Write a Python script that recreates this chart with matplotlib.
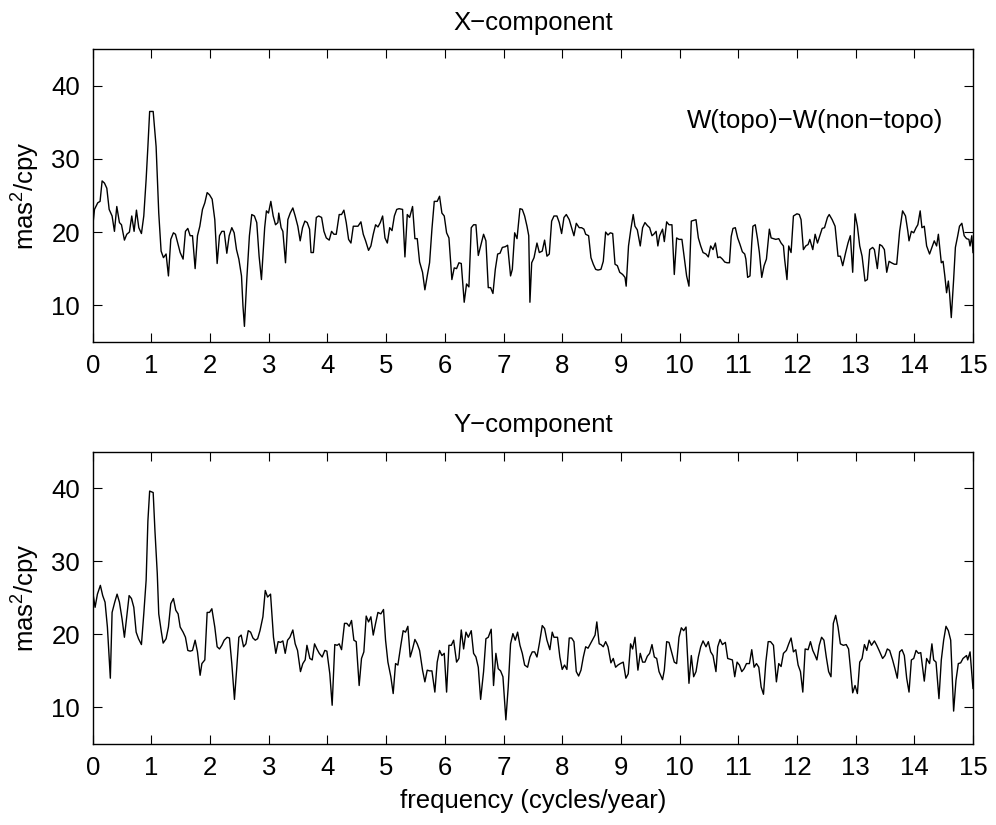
import matplotlib
matplotlib.use("Agg")
import matplotlib.pyplot as plt

plt.rcParams['font.family'] = ['Liberation Sans', 'DejaVu Sans']
plt.rcParams['mathtext.fontset'] = 'custom'
plt.rcParams['mathtext.rm'] = 'Liberation Sans'
plt.rcParams['mathtext.it'] = 'Liberation Sans:italic'

# ---------------- data ----------------
freq_x = [0.00, 0.03, 0.085, 0.125, 0.16, 0.20, 0.24, 0.28, 0.33, 0.37, 0.41, 0.455, 0.49, 0.54, 0.58,
          0.625, 0.665, 0.705, 0.745, 0.785, 0.83, 0.87, 0.91, 0.94, 0.97, 1.03, 1.08, 1.125, 1.165,
          1.205, 1.25, 1.29, 1.33, 1.375, 1.41, 1.455, 1.49, 1.54, 1.58, 1.62, 1.66, 1.70, 1.745,
          1.785, 1.825, 1.87, 1.91, 1.95, 1.99, 2.035, 2.08, 2.12, 2.16, 2.20, 2.24, 2.285, 2.325,
          2.37, 2.41, 2.45, 2.49, 2.535, 2.56, 2.585, 2.625, 2.67, 2.71, 2.755, 2.795, 2.835, 2.875,
          2.90, 2.93, 2.96, 2.995, 3.035, 3.075, 3.115, 3.155, 3.17, 3.21, 3.24, 3.285, 3.325, 3.365,
          3.41, 3.45, 3.495, 3.535, 3.575, 3.615, 3.655, 3.695, 3.72, 3.76, 3.81, 3.85,
          3.90, 3.94, 3.98, 4.03, 4.07, 4.11, 4.15, 4.20, 4.24, 4.28, 4.32, 4.36, 4.40, 4.44, 4.48,
          4.52, 4.57, 4.61, 4.65, 4.70, 4.74, 4.78, 4.82, 4.86, 4.90, 4.94, 4.98, 5.02, 5.06, 5.10,
          5.14, 5.18, 5.22, 5.28, 5.32, 5.36, 5.40, 5.45, 5.49, 5.53, 5.57, 5.62, 5.66, 5.70, 5.74,
          5.78, 5.82, 5.87, 5.91, 5.95, 5.99, 6.03, 6.07, 6.12, 6.16, 6.20, 6.24, 6.28, 6.33, 6.37,
          6.41, 6.45, 6.49, 6.53, 6.57, 6.61, 6.66, 6.70, 6.74, 6.78, 6.82, 6.86, 6.90, 6.94, 6.98,
          7.03, 7.07, 7.12, 7.15, 7.19, 7.23, 7.28, 7.32, 7.36, 7.40, 7.43, 7.45, 7.48, 7.52, 7.57,
          7.61, 7.66, 7.70, 7.74, 7.78, 7.82, 7.86, 7.91, 7.95, 7.99, 8.03, 8.07, 8.12, 8.16, 8.20,
          8.24, 8.29, 8.33, 8.37, 8.40, 8.45, 8.49, 8.53, 8.57, 8.61, 8.66, 8.70, 8.74, 8.78, 8.82,
          8.86, 8.90, 8.94, 8.98, 9.03, 9.07, 9.09, 9.13, 9.17, 9.21, 9.24, 9.28, 9.33, 9.37, 9.41,
          9.45, 9.49, 9.53, 9.56, 9.60, 9.63, 9.66, 9.71, 9.74, 9.78, 9.82, 9.87, 9.91, 9.95, 9.99,
          10.04, 10.08, 10.12, 10.16, 10.20, 10.24, 10.28, 10.32, 10.36, 10.40, 10.45, 10.49, 10.53,
          10.57, 10.61, 10.65, 10.69, 10.73, 10.77, 10.81, 10.85, 10.88, 10.91, 10.95, 10.99, 11.03,
          11.07, 11.11, 11.13, 11.16, 11.20, 11.23, 11.25, 11.29, 11.33, 11.36, 11.40, 11.44, 11.48,
          11.53, 11.56, 11.60, 11.64, 11.69, 11.73, 11.77, 11.79, 11.83, 11.86, 11.90, 11.94, 12.00,
          12.04, 12.07, 12.11, 12.15, 12.19, 12.22, 12.27, 12.31, 12.35, 12.39, 12.43, 12.47, 12.52,
          12.55, 12.60, 12.65, 12.70, 12.74, 12.78, 12.83, 12.87, 12.91, 12.95, 12.99, 13.03, 13.07,
          13.11, 13.16, 13.20, 13.24, 13.29, 13.32, 13.37, 13.41, 13.45, 13.49, 13.53, 13.57, 13.61,
          13.66, 13.70, 13.75, 13.80, 13.85, 13.89, 13.91, 13.95, 13.99, 14.03, 14.06, 14.10, 14.13,
          14.17, 14.21, 14.26, 14.30, 14.34, 14.38, 14.41, 14.46, 14.49, 14.52, 14.55, 14.58, 14.60,
          14.63, 14.67, 14.70, 14.74, 14.77, 14.81, 14.85, 14.89, 14.93, 14.95, 14.98, 15.00]

psd_x = [20.8, 23.1, 24.0, 24.2, 27.0, 26.7, 26.0, 23.1, 22.2, 20.1, 23.5, 21.3, 21.0, 18.9, 19.7,
         20.0, 22.2, 20.1, 23.0, 20.6, 19.8, 22.2, 27.2, 31.7, 36.5, 36.5, 31.7, 22.6, 17.4,
         16.5, 17.0, 14.0, 19.0, 19.9, 19.7, 18.3, 17.2, 16.3, 20.1, 20.5, 19.5, 19.5, 15.0,
         19.5, 20.8, 23.1, 24.0, 25.4, 25.1, 24.5, 21.7, 15.7, 19.5, 20.1, 20.1, 17.1, 19.5,
         20.6, 19.9, 17.6, 16.3, 14.0, 9.9, 7.1, 13.5, 19.5, 22.4, 22.2, 21.3, 16.7, 13.5,
         16.7, 20.6, 22.9, 22.6, 24.2, 22.2, 21.0, 21.3, 22.6, 20.6, 20.1, 15.8, 21.7, 22.6,
         23.3, 22.2, 20.8, 18.8, 20.6, 21.5, 21.3, 20.4, 17.2, 17.2, 22.0, 22.2,
         22.0, 20.1, 19.2, 18.9, 20.1, 19.7, 19.7, 22.4, 22.4, 23.0, 21.3, 19.0, 18.5, 20.8, 20.8,
         20.8, 21.4, 19.7, 18.8, 17.5, 18.1, 19.7, 21.0, 20.7, 21.3, 22.2, 19.2, 18.5, 20.6, 20.2,
         22.2, 23.1, 23.2, 23.1, 16.6, 22.4, 22.0, 23.5, 19.1, 19.1, 15.9, 14.5, 12.1, 14.0, 15.8,
         20.4, 24.2, 24.2, 24.9, 22.6, 22.2, 19.9, 19.2, 13.5, 15.1, 15.0, 15.8, 15.7, 10.4, 12.9,
         12.5, 20.6, 21.0, 21.0, 16.8, 18.1, 19.7, 18.8, 12.4, 12.4, 11.6, 14.9, 17.0, 17.1, 17.9,
         18.0, 18.2, 14.0, 14.9, 19.9, 19.1, 23.2, 23.1, 22.2, 20.8, 19.5, 10.4, 15.8, 16.5, 18.5,
         17.2, 17.4, 18.9, 16.7, 17.0, 21.5, 22.2, 22.2, 21.3, 19.8, 22.0, 22.4, 21.7, 20.6, 19.5,
         21.2, 20.6, 20.6, 20.4, 19.7, 19.5, 16.5, 15.6, 14.9, 14.8, 14.9, 16.0, 20.0, 19.6, 19.9,
         19.8, 15.6, 15.4, 14.5, 14.2, 13.8, 12.6, 18.1, 20.4, 22.4, 20.8, 20.3, 18.1, 20.6, 21.3,
         20.9, 20.6, 19.5, 19.7, 20.1, 18.1, 19.5, 20.4, 18.7, 21.4, 21.0, 21.0, 14.2, 19.2, 19.0,
         19.0, 16.5, 14.0, 12.6, 21.5, 21.6, 21.7, 19.2, 18.1, 17.2, 17.0, 16.6, 18.1,
         17.6, 18.5, 16.5, 16.6, 16.3, 15.9, 15.8, 15.8, 19.4, 20.5, 20.6, 19.2, 18.3,
         17.3, 17.0, 16.3, 13.8, 14.0, 18.5, 20.8, 21.0, 19.0, 17.2, 13.8, 15.4, 16.3,
         20.4, 19.2, 19.1, 19.0, 19.1, 18.5, 18.1, 16.3, 13.5, 18.1, 17.2, 22.2, 22.5,
         22.4, 21.7, 17.6, 18.1, 18.3, 19.0, 17.6, 19.7, 18.5, 19.5, 20.5, 20.6, 22.0,
         22.4, 21.7, 20.8, 16.7, 16.7, 15.4, 17.2, 18.5, 19.5, 14.5, 22.5, 20.8, 18.1,
         16.7, 13.3, 13.5, 17.6, 17.9, 17.6, 15.0, 18.3, 18.1, 17.6, 14.5, 16.0, 15.8,
         15.6, 15.6, 20.1, 22.9, 22.2, 20.1, 18.8, 20.1, 19.9, 20.6, 21.0, 22.9, 20.6,
         20.8, 18.1, 17.0, 17.9, 18.8, 18.1, 19.7, 15.8, 16.0, 14.0, 11.7, 13.3, 11.7,
         8.3, 13.5, 17.9, 19.5, 20.8, 21.2, 19.5, 19.1, 19.0, 18.1, 19.5, 17.2]

freq_y = [0.00, 0.04, 0.08, 0.13, 0.17, 0.21, 0.25, 0.30, 0.33, 0.375, 0.415, 0.455, 0.50, 0.54, 0.58,
          0.62, 0.66, 0.70, 0.74, 0.78, 0.83, 0.87, 0.91, 0.94, 0.97, 1.03, 1.06, 1.10, 1.125, 1.17,
          1.20, 1.25, 1.29, 1.33, 1.375, 1.415, 1.455, 1.49, 1.54, 1.58, 1.62, 1.66, 1.70, 1.745,
          1.785, 1.83, 1.86, 1.91, 1.95, 1.99, 2.03, 2.08, 2.12, 2.16, 2.20, 2.24, 2.29, 2.33, 2.37,
          2.415, 2.455, 2.49, 2.53, 2.57, 2.61, 2.65, 2.69, 2.73, 2.77, 2.81, 2.85, 2.90, 2.94, 2.98,
          3.03, 3.08, 3.12, 3.16, 3.20, 3.24, 3.28, 3.32, 3.36, 3.41, 3.45, 3.49, 3.54, 3.58, 3.62,
          3.65, 3.70, 3.74, 3.78, 3.82, 3.86,
          3.91, 3.955, 3.99, 4.04, 4.08, 4.125, 4.165, 4.20, 4.24, 4.29, 4.33, 4.37, 4.41, 4.45,
          4.49, 4.54, 4.58, 4.62, 4.66, 4.70, 4.74, 4.78, 4.82, 4.86, 4.91, 4.955, 4.99, 5.03, 5.08,
          5.12, 5.16, 5.20, 5.25, 5.29, 5.33, 5.37, 5.41, 5.45, 5.49, 5.53, 5.57, 5.62, 5.66, 5.70,
          5.74, 5.78, 5.83, 5.87, 5.91, 5.95, 5.99, 6.03, 6.07, 6.11, 6.15, 6.20, 6.24, 6.28, 6.32,
          6.36, 6.40, 6.45, 6.49, 6.53, 6.57, 6.61, 6.66, 6.70, 6.74, 6.79, 6.83, 6.87, 6.91, 6.95,
          6.99, 7.04, 7.08, 7.12, 7.16, 7.20, 7.24, 7.28, 7.32, 7.36, 7.41, 7.45, 7.49, 7.53, 7.57,
          7.61, 7.66, 7.70, 7.74, 7.79, 7.83, 7.86, 7.92, 7.96, 8.00, 8.04, 8.08, 8.12, 8.16, 8.20,
          8.24, 8.28, 8.32, 8.36, 8.40, 8.44, 8.48, 8.52, 8.56, 8.59, 8.63, 8.66, 8.70, 8.74, 8.78,
          8.83, 8.87, 8.91, 8.95, 8.99, 9.04, 9.085, 9.125, 9.165, 9.20, 9.24, 9.29, 9.33, 9.37,
          9.41, 9.45, 9.49, 9.53, 9.57, 9.61, 9.65, 9.71, 9.74, 9.78, 9.82, 9.87, 9.91, 9.95, 9.99,
          10.03, 10.07, 10.11, 10.16, 10.20, 10.24, 10.28, 10.32, 10.36, 10.40, 10.45, 10.49, 10.53,
          10.57, 10.62, 10.65, 10.69, 10.73, 10.78, 10.82, 10.86, 10.90, 10.94, 10.98, 11.02, 11.06,
          11.10, 11.14, 11.19, 11.23, 11.27, 11.31, 11.35, 11.39, 11.43, 11.47, 11.51, 11.55, 11.60,
          11.65, 11.69, 11.73, 11.77, 11.82, 11.86, 11.90, 11.94, 11.98, 12.02, 12.06, 12.10, 12.14,
          12.19, 12.23, 12.27, 12.31, 12.34, 12.38, 12.42, 12.46, 12.50, 12.54, 12.58, 12.62, 12.66,
          12.70, 12.74, 12.79, 12.84, 12.88, 12.91, 12.95, 12.99, 13.03, 13.07, 13.11, 13.15, 13.19,
          13.23, 13.27, 13.32, 13.36, 13.40, 13.46, 13.50, 13.54, 13.58, 13.63, 13.67, 13.71, 13.75,
          13.79, 13.83, 13.87, 13.91, 13.95, 13.99, 14.03, 14.07, 14.11, 14.17, 14.21, 14.26, 14.30,
          14.33, 14.37, 14.42, 14.46, 14.50, 14.54, 14.58, 14.62, 14.67, 14.71, 14.75, 14.79, 14.83,
          14.89, 14.91, 14.95, 15.00]

psd_y = [25.8, 23.7, 25.5, 26.7, 25.3, 24.4, 21.0, 14.0, 23.0, 24.4, 25.5, 24.4, 22.1, 19.6, 22.4,
         25.3, 24.9, 23.7, 20.3, 19.4, 18.6, 22.8, 27.4, 35.5, 39.6, 39.4, 34.2, 28.3, 22.8, 20.3,
         18.8, 19.4, 21.0, 24.2, 24.9, 23.3, 22.8, 21.0, 20.3, 19.6, 17.8, 17.7, 17.8, 19.2,
         17.6, 14.4, 16.0, 16.5, 23.0, 23.0, 23.5, 21.0, 18.3, 18.0, 18.5, 19.2, 19.6, 19.5, 16.0,
         11.1, 15.5, 19.6, 19.9, 18.3, 18.7, 20.5, 20.3, 19.5, 19.2, 19.4, 20.5, 22.4, 26.0, 25.1,
         25.5, 19.6, 17.4, 19.0, 18.9, 19.1, 17.4, 19.2, 19.6, 20.6, 18.7, 17.8, 14.9, 16.0, 16.5,
         18.5, 16.7, 16.5, 18.7, 18.0, 17.4,
         16.9, 17.8, 17.7, 14.6, 10.3, 18.6, 18.5, 18.7, 17.9, 21.5, 21.5, 21.1, 21.9, 19.2,
         19.0, 13.0, 16.7, 17.6, 22.5, 21.7, 22.4, 19.9, 21.5, 23.0, 22.8, 23.4, 19.2, 16.2, 14.2,
         11.9, 16.0, 15.8, 18.5, 20.5, 20.3, 21.1, 16.9, 18.0, 19.3, 18.7, 17.8, 15.1, 13.5, 15.1,
         15.0, 15.0, 12.1, 16.2, 17.8, 17.1, 17.4, 12.1, 18.5, 18.5, 19.2, 16.2, 16.7, 20.6, 18.0,
         20.3, 19.6, 20.5, 17.4, 16.9, 15.5, 11.1, 14.9, 19.4, 19.6, 20.7, 13.0, 17.4, 15.3, 15.0,
         14.2, 8.3, 12.8, 18.7, 20.1, 19.2, 20.3, 18.5, 17.4, 15.8, 15.5, 16.9, 17.6, 17.6, 16.9,
         18.7, 21.2, 20.8, 19.2, 17.9, 20.3, 19.6, 19.6, 16.9, 15.2, 15.8, 15.2, 19.5, 19.5, 19.0,
         14.9, 14.3, 15.1, 16.9, 18.3, 18.1, 18.7, 19.3, 19.9, 21.7, 18.7, 18.6, 18.3, 19.0, 18.3,
         16.1, 16.7, 15.5, 15.8, 16.0, 16.2, 14.0, 14.6, 18.7, 18.0, 19.6, 15.1, 17.4, 16.2,
         16.2, 17.0, 17.4, 18.6, 16.9, 16.7, 14.9, 13.8, 15.1, 19.0, 18.9, 17.4, 16.2, 16.0, 19.6,
         20.9, 20.5, 21.0, 13.3, 17.1, 14.2, 14.9, 16.9, 18.3, 19.1, 18.3, 19.0, 17.6,
         17.1, 14.9, 18.3, 19.3, 18.6, 18.9, 16.7, 16.6, 16.5, 14.2, 16.2, 15.8, 14.9,
         15.3, 16.0, 16.0, 17.9, 15.5, 16.0, 15.5, 12.8, 11.8, 16.2, 19.0, 19.0, 18.5,
         13.5, 16.0, 15.6, 17.4, 17.8, 18.7, 19.5, 17.6, 17.9, 15.8, 14.9, 12.1, 18.0,
         17.9, 19.0, 17.8, 17.1, 16.5, 18.5, 19.6, 19.2, 16.9, 14.9, 14.2, 21.5, 22.6,
         21.0, 18.7, 18.5, 18.6, 18.0, 15.5, 12.0, 13.0, 11.9, 16.2, 16.7, 18.6, 17.8,
         19.2, 18.5, 19.1, 18.5, 17.8, 16.7, 17.1, 18.0, 17.8, 16.5, 15.3, 14.0, 17.6,
         17.9, 17.1, 14.0, 12.1, 16.5, 16.7, 17.8, 17.4, 17.5, 13.6, 16.7, 16.0, 18.7,
         16.5, 16.2, 11.2, 16.5, 19.2, 21.1, 20.5, 19.2, 9.5, 13.7, 16.0, 16.1, 16.7,
         17.1, 16.5, 17.6, 12.6]

titles = ["X\u2212component", "Y\u2212component"]
ylabel = "mas$^{\\mathrm{2}}$/cpy"
xlabel = "frequency (cycles/year)"
annotation = "W(topo)\u2212W(non\u2212topo)"
xticks = list(range(0, 16))
yticks = [10, 20, 30, 40]

FS = 18.5

fig = plt.figure(figsize=(9.96, 8.25), dpi=100)
ax1 = fig.add_axes([0.0931, 0.5858, 0.8838, 0.3544])
ax2 = fig.add_axes([0.0931, 0.0982, 0.8838, 0.3544])

for ax, f, v, t in [(ax1, freq_x, psd_x, titles[0]), (ax2, freq_y, psd_y, titles[1])]:
    ax.plot(f, v, color='black', linewidth=1.0)
    ax.set_xlim(0, 15)
    ax.set_ylim(5, 45)
    ax.set_xticks(xticks)
    ax.set_yticks(yticks)
    ax.tick_params(direction='in', top=True, right=True, length=6.5, width=0.8,
                   labelsize=FS, pad=9)
    for s in ax.spines.values():
        s.set_linewidth(1.0)
    ax.set_title(t, fontsize=FS, pad=14)
    ax.set_ylabel(ylabel, fontsize=FS)
    ax.yaxis.set_label_coords(-0.058, 0.5)

ax1.text(14.49, 34.2, annotation, fontsize=FS, ha='right', va='baseline')
ax2.set_xlabel(xlabel, fontsize=FS, labelpad=6)

fig.savefig("out.png", dpi=100)
